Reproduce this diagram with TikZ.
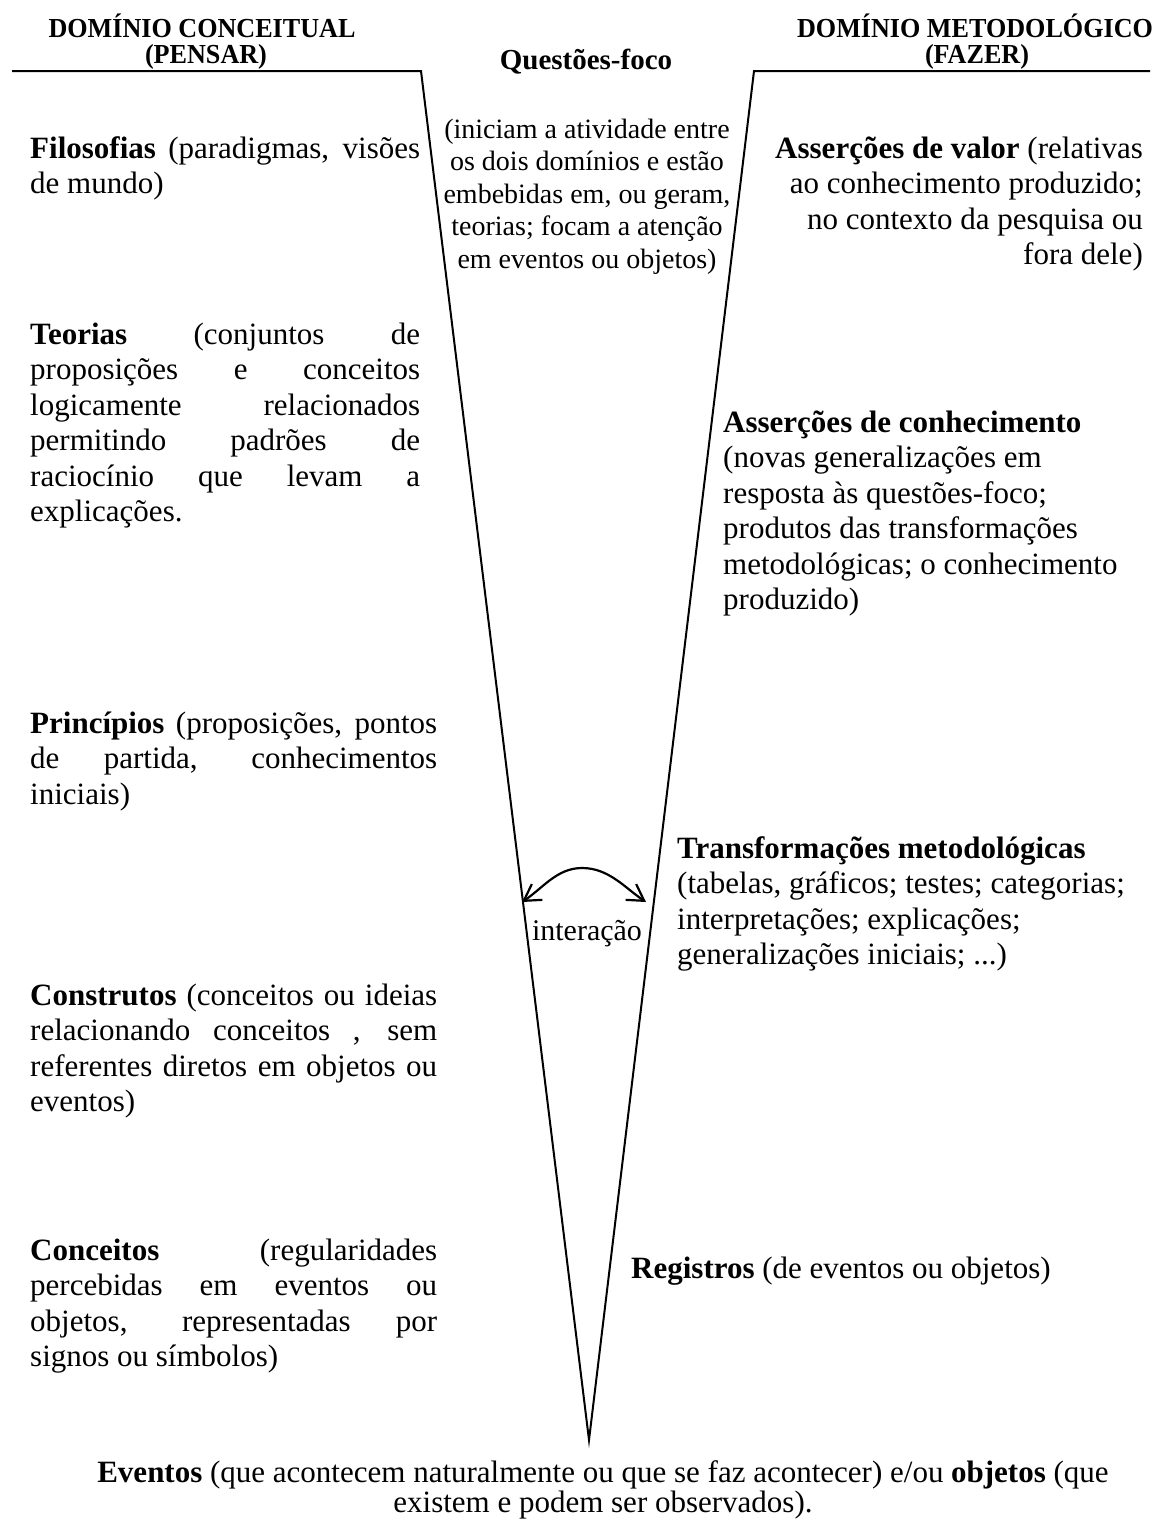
\documentclass[tikz,border=0pt]{standalone}
\usepackage{fontspec}
\usepackage{graphicx}
\setmainfont{Liberation Serif}
\usetikzlibrary{arrows.meta}
\newcommand\tstrut{\rule{0pt}{24pt}}
\newcommand\jl[2]{\makebox[#1pt][s]{#2}}
\newcommand\hd[1]{\scalebox{0.95}[1]{#1}}
\begin{document}
\begin{tikzpicture}[x=1pt,y=-1pt,
  body/.style={inner sep=0pt, font=\fontsize{31}{35.5}\selectfont},
  bodyL/.style={body, align=left, anchor=north west},
  bodyR/.style={body, align=right, anchor=north east},
  head/.style={inner sep=0pt, anchor=base, font=\bfseries\fontsize{27.5}{30}\selectfont},
  vline/.style={line width=2pt, line join=miter},
  arc/.style={line width=2.2pt, {Straight Barb[length=16pt,width=19pt]}-{Straight Barb[length=16pt,width=19pt]}}
]
\useasboundingbox (0,0) rectangle (1154,1519);
\fill[white] (0,0) rectangle (1154,1519);

% V shape
\coordinate (L0) at (12,71);
\coordinate (L1) at (421,71);
\coordinate (V) at (589,1440);
\coordinate (R1) at (754,71);
\coordinate (R0) at (1150,71);
\draw[vline] (L0) -- (L1) -- (V) -- (R1) -- (R0);

% headers
\node[head] (hc1) at (202,37) {\hd{DOMÍNIO CONCEITUAL}};
\node[head] (hc2) at (206,63) {\hd{(PENSAR)}};
\node[head] (hm1) at (975,37) {\hd{DOMÍNIO METODOLÓGICO}};
\node[head] (hm2) at (977,63) {\hd{(FAZER)}};
\node[inner sep=0pt, anchor=base, font=\bfseries\fontsize{29}{32}\selectfont] (qf) at (586,69) {Questões-foco};

% center text
\node[inner sep=0pt, align=center, anchor=north, font=\fontsize{28}{32.5}\selectfont] (qtext) at (587,114)
  {\tstrut(iniciam a atividade entre\\os dois domínios e estão\\embebidas em, ou geram,\\teorias; focam a atenção\\em eventos ou objetos)};

% left column
\node[bodyL] (filo) at (30,134)
  {\tstrut\jl{390}{\textbf{Filosofias} (paradigmas, visões}\\de mundo)};
\node[bodyL] (teor) at (30,320)
  {\tstrut\jl{390}{\textbf{Teorias} (conjuntos de}\\
   \jl{390}{proposições e conceitos}\\
   \jl{390}{logicamente relacionados}\\
   \jl{390}{permitindo padrões de}\\
   \jl{390}{raciocínio que levam a}\\
   explicações.};
\node[bodyL] (prin) at (30,709)
  {\tstrut\jl{407}{\textbf{Princípios} (proposições, pontos}\\
   \jl{407}{de partida, conhecimentos}\\
   iniciais)};
\node[bodyL] (cons) at (30,981)
  {\tstrut\jl{407}{\textbf{Construtos} (conceitos ou ideias}\\
   \jl{407}{relacionando conceitos , sem}\\
   \jl{407}{referentes diretos em objetos ou}\\
   eventos)};
\node[bodyL] (conc) at (30,1236)
  {\tstrut\jl{407}{\textbf{Conceitos} (regularidades}\\
   \jl{407}{percebidas em eventos ou}\\
   \jl{407}{objetos, representadas por}\\
   signos ou símbolos)};

% right column
\node[bodyR] (aval) at (1143,134)
  {\tstrut\textbf{Asserções de valor} (relativas\\ao conhecimento produzido;\\no contexto da pesquisa ou\\fora dele)};
\node[bodyL] (acon) at (723,408)
  {\tstrut\textbf{Asserções de conhecimento}\\(novas generalizações em\\resposta às questões-foco;\\produtos das transformações\\metodológicas; o conhecimento\\produzido)};
\node[bodyL] (trans) at (677,834)
  {\tstrut\textbf{Transformações metodológicas}\\(tabelas, gráficos; testes; categorias;\\interpretações; explicações;\\generalizações iniciais; ...)};
\node[bodyL] (regi) at (631,1254)
  {\tstrut\textbf{Registros} (de eventos ou objetos)};

% interaction
\coordinate (aL) at (522,902);
\coordinate (aP) at (582,868);
\coordinate (aR) at (646,902);
\draw[arc] (aL) .. controls (543,888) and (557,868) .. (aP) .. controls (609,868) and (625,888) .. (aR);
\node[inner sep=0pt, anchor=base, font=\fontsize{30}{34}\selectfont] (inter) at (587,940) {interação};

% bottom
\node[inner sep=0pt, align=center, anchor=north, font=\fontsize{31}{30}\selectfont] (even) at (603,1458)
  {\tstrut\textbf{Eventos} (que acontecem naturalmente ou que se faz acontecer) e/ou \textbf{objetos} (que\\existem e podem ser observados).};
\end{tikzpicture}
\end{document}
